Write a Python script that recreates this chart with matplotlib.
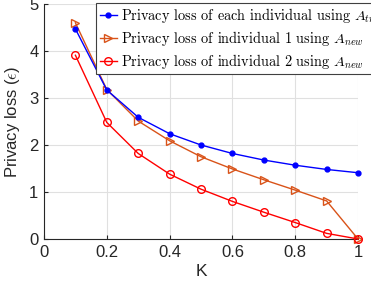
import numpy as np
import matplotlib
matplotlib.use('Agg')
import matplotlib.pyplot as plt

plt.rcParams.update({
    'font.family': 'Liberation Sans',
    'mathtext.fontset': 'cm',
    'axes.unicode_minus': False,
})

K = [0.1, 0.2, 0.3, 0.4, 0.5, 0.6, 0.7, 0.8, 0.9, 1.0]
loss_each = [4.47, 3.17, 2.59, 2.24, 2.00, 1.82, 1.68, 1.57, 1.48, 1.41]
loss_ind1 = [4.60, 3.18, 2.51, 2.09, 1.75, 1.49, 1.26, 1.04, 0.81, 0.00]
loss_ind2 = [3.91, 2.48, 1.82, 1.38, 1.06, 0.80, 0.57, 0.35, 0.12, 0.00]

labels = [r'Privacy loss of each individual using $A_{trad}$',
          r'Privacy loss of individual 1 using $A_{new}$',
          r'Privacy loss of individual 2 using $A_{new}$']

fig = plt.figure(figsize=(3.71, 2.91), dpi=100)
ax = fig.add_axes([0.1186, 0.1787, 0.8464, 0.8075])

ax.plot(K, loss_each, '-', color='#0000ff', lw=1.0, marker='.', ms=7,
        label=labels[0], clip_on=False, zorder=4)
ax.plot(K, loss_ind1, '-', color='#d95319', lw=1.0, marker='>', ms=6,
        mfc='none', mew=1.0, label=labels[1], clip_on=False, zorder=3)
ax.plot(K, loss_ind2, '-', color='#ff0000', lw=1.0, marker='o', ms=5.5,
        mfc='none', mew=1.0, label=labels[2], clip_on=False, zorder=5)

ax.set_xlim(0, 1)
ax.set_ylim(0, 5)
ax.set_xticks([0, 0.2, 0.4, 0.6, 0.8, 1])
ax.set_xticklabels(['0', '0.2', '0.4', '0.6', '0.8', '1'])
ax.set_yticks([0, 1, 2, 3, 4, 5])
ax.grid(True, color='0.88', lw=0.8)
ax.set_axisbelow(True)
for s in ['top', 'right']:
    ax.spines[s].set_visible(False)
for s in ['left', 'bottom']:
    ax.spines[s].set_color('0.15')
    ax.spines[s].set_linewidth(0.8)
ax.tick_params(direction='in', length=3, width=0.8, colors='0.15',
               labelsize=12, labelcolor='0.15', pad=4)
ax.set_xlabel('K', fontsize=12.5, color='0.15', labelpad=3)
ax.set_ylabel(r'Privacy loss ($\epsilon$)', fontsize=12, color='0.15', labelpad=5)

leg = ax.legend(loc='upper left', bbox_to_anchor=(0.167, 1.005), frameon=True,
                fancybox=False, edgecolor='0.25', framealpha=1,
                prop={'family': 'cmr10', 'size': 10.3}, handlelength=1.2,
                handletextpad=0.3, labelspacing=0.28, borderpad=0.22,
                borderaxespad=0)
leg.get_frame().set_linewidth(0.8)

fig.savefig('out.png', dpi=100)
